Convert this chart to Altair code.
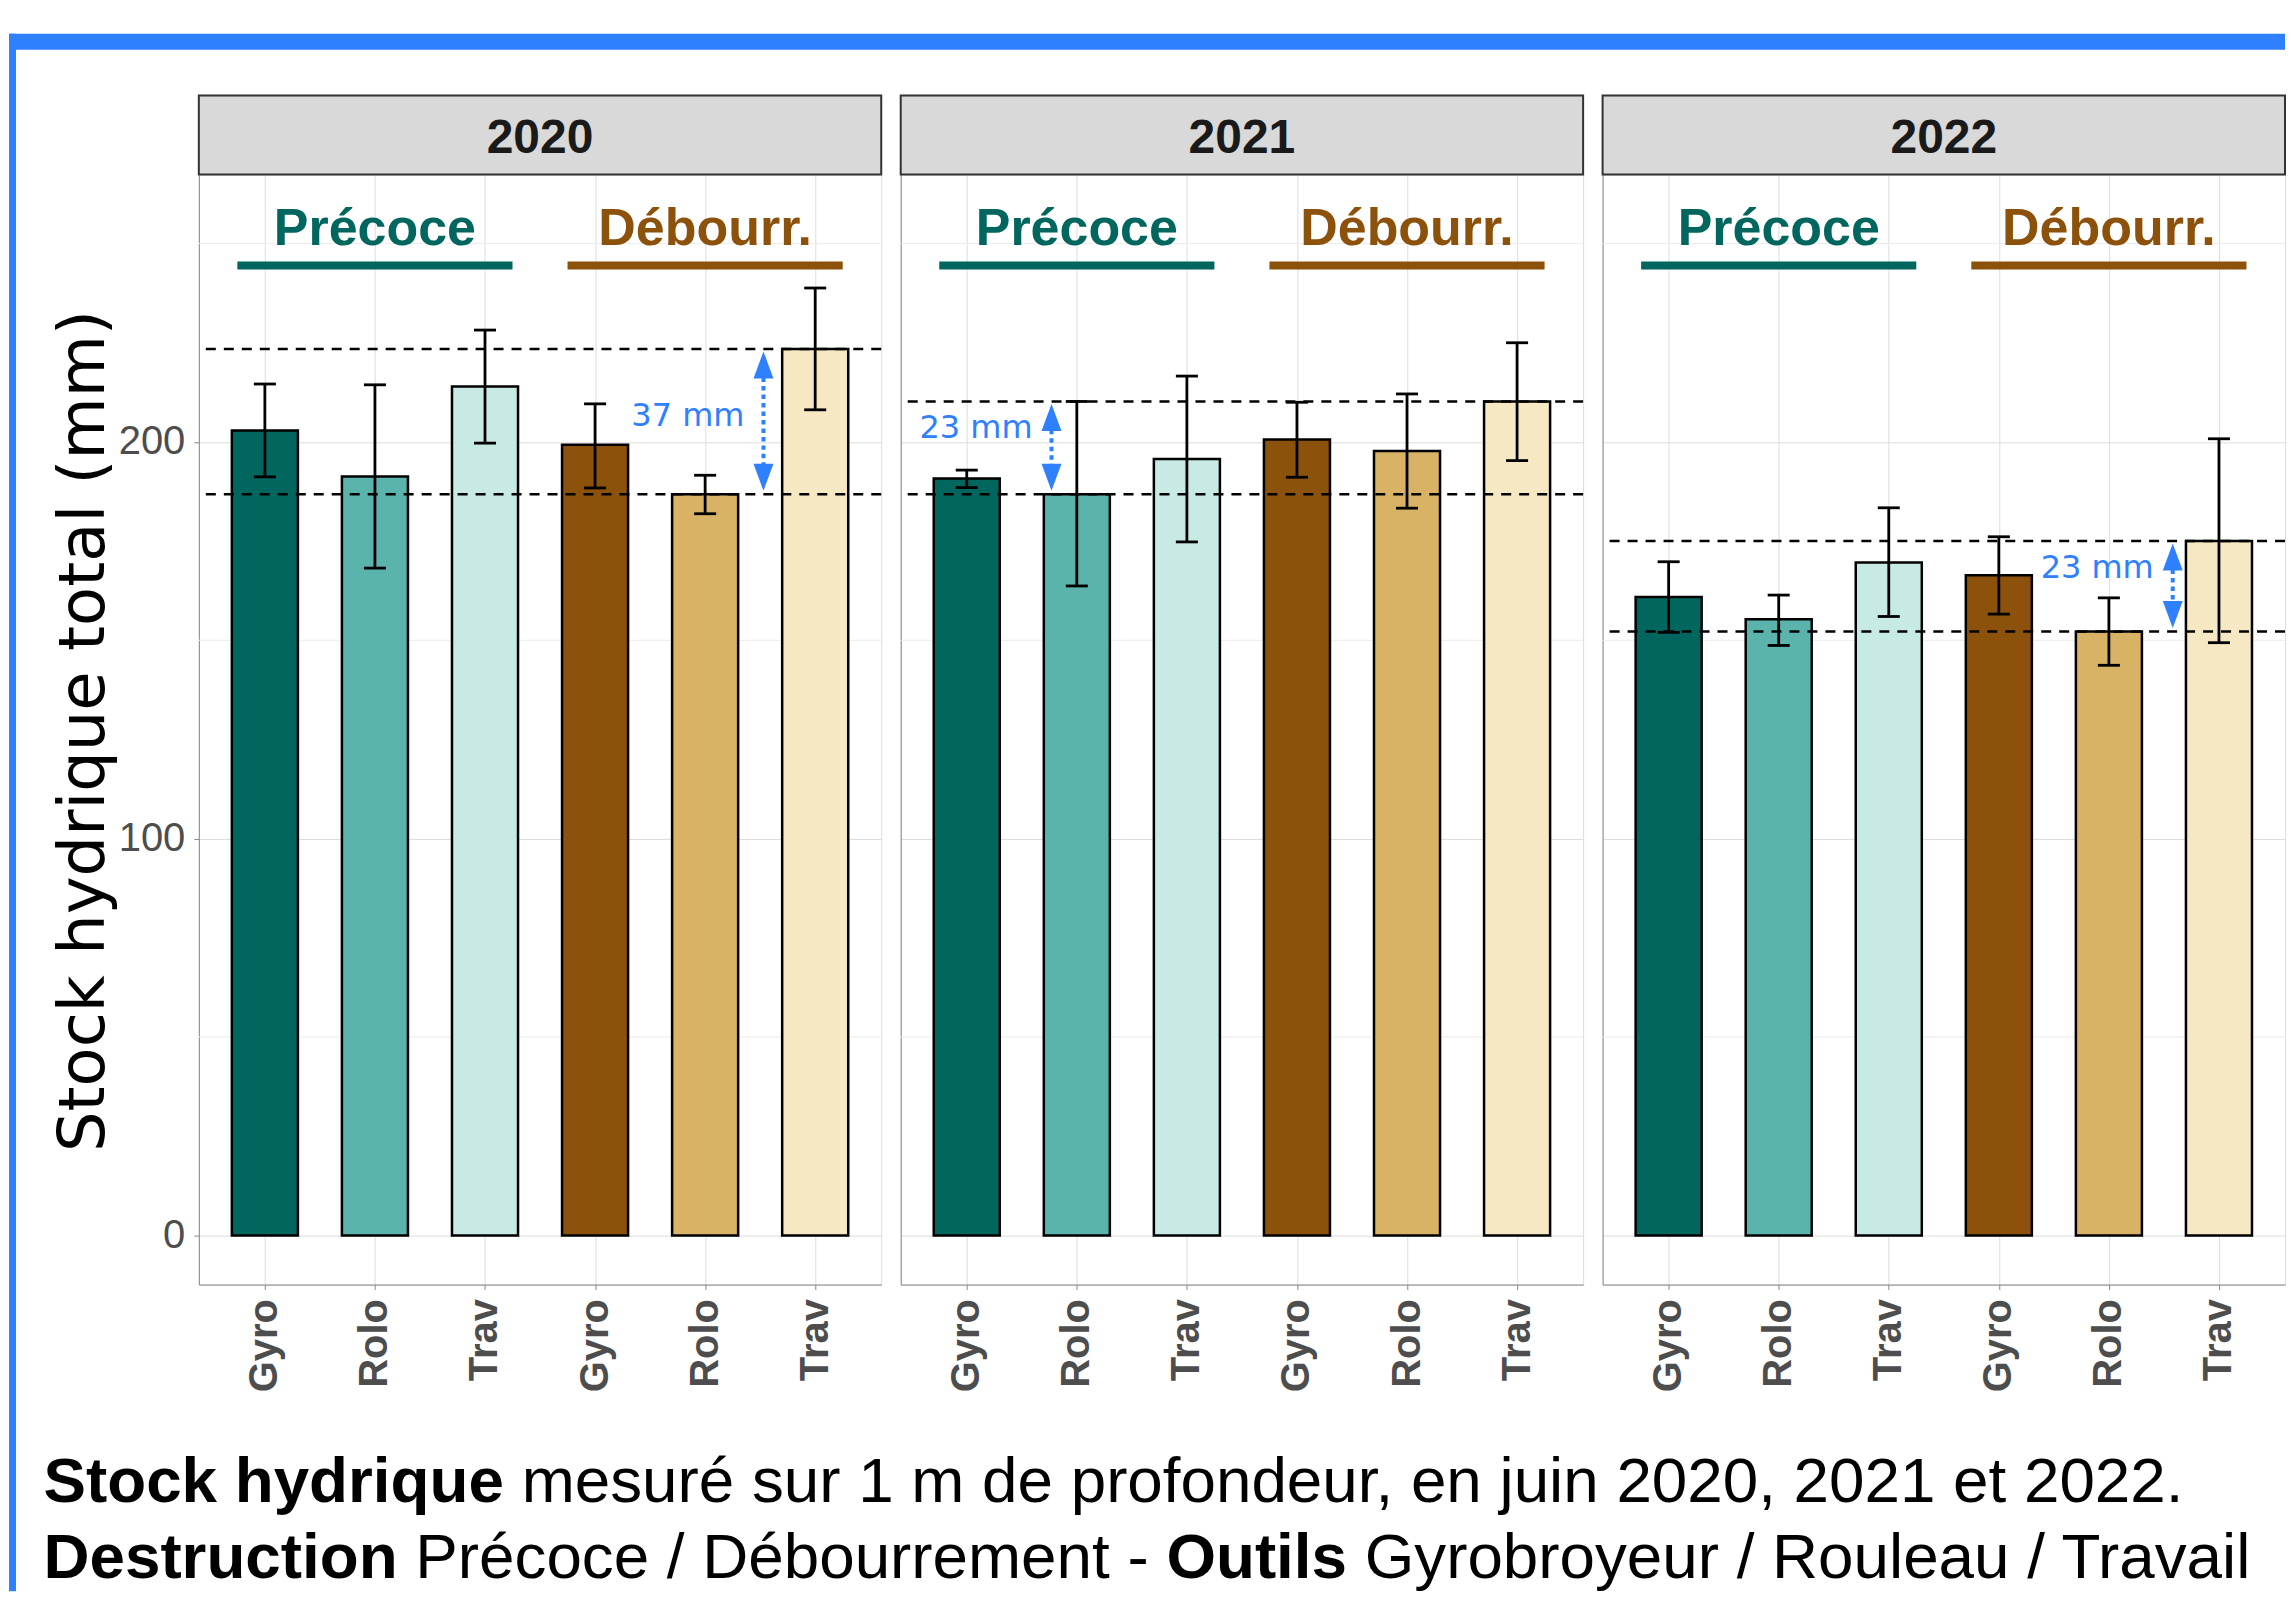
import json
import altair as alt
import pandas as pd

# ---------------- data ----------------
years = ["2020", "2021", "2022"]
tools = ["Gyro", "Rolo", "Trav", "Gyro", "Rolo", "Trav"]
timing = ["Précoce", "Précoce", "Précoce", "Débourr.", "Débourr.", "Débourr."]
bar_colors = ["#01665E", "#5AB4AC", "#C7EAE5", "#8C510A", "#D8B365", "#F6E8C3"]

stock_2020 = [202.9, 191.3, 214.0, 199.3, 186.8, 223.4]
low_2020 = [191.2, 168.2, 199.7, 188.4, 181.9, 208.1]
high_2020 = [214.6, 214.4, 228.2, 209.6, 191.6, 238.8]

stock_2021 = [190.8, 186.8, 195.7, 200.6, 197.7, 210.2]
low_2021 = [188.5, 163.7, 174.8, 191.1, 183.3, 195.3]
high_2021 = [192.9, 210.2, 216.6, 210.0, 212.1, 225.0]

stock_2022 = [160.9, 155.3, 169.6, 166.4, 152.2, 175.0]
low_2022 = [152.0, 148.7, 156.0, 156.6, 143.7, 149.4]
high_2022 = [169.8, 161.4, 183.4, 176.1, 160.7, 200.8]

stocks = [stock_2020, stock_2021, stock_2022]
lows = [low_2020, low_2021, low_2022]
highs = [high_2020, high_2021, high_2022]

ref_high = [223.4, 210.2, 175.0]
ref_low = [186.8, 186.8, 152.2]
gap_labels = ["37 mm", "23 mm", "23 mm"]
gap_x = [5.53, 1.77, 5.58]
gap_label_y = [206.5, 203.5, 168.3]

group_names = ["Précoce", "Débourr."]
group_colors = ["#01665E", "#8C510A"]
group_center = [2, 5]
group_start = [0.75, 3.75]
group_end = [3.25, 6.25]
group_label_y = 249.6
group_line_y = 244.5

y_ticks = [0, 100, 200]
y_minor = [50, 150, 250]

caption_1 = [("Stock hydrique", "bold"),
             ("mesuré sur 1 m de profondeur, en juin 2020, 2021 et 2022.", "normal")]
caption_2 = [("Destruction", "bold"), ("Précoce / Débourrement -", "normal"),
             ("Outils", "bold"), ("Gyrobroyeur / Rouleau / Travail", "normal")]

# ---------------- layout ----------------
W, H = 683, 1111
SPACING = 19.5
PX0, PY0 = 198.0, 173.0          # page position of first plot area
XDOM = [0.4, 6.6]
YDOM = [-12.4, 267.4]
BLUE = "#2F80FF"
FONT = "Liberation Sans"
LABEL_GREY = "#4D4D4D"
CAP_FS = 63.8
RIGHT_EDGE = 2286                # keep the page free of scrollbars
BOTTOM_EDGE = 1591

# Arial / Liberation Sans advance widths (per 1000 em) for caption segments
REG = {" ": 278, "/": 278, "-": 333, "P": 667, "r": 333, "é": 556, "c": 500, "o": 556,
       "e": 556, "D": 722, "b": 556, "u": 556, "m": 833, "n": 556, "t": 278}
BLD = {" ": 278, "S": 667, "t": 333, "o": 611, "c": 556, "k": 556, "h": 611, "y": 556,
       "d": 611, "r": 389, "i": 278, "q": 611, "u": 611, "e": 556, "D": 722, "s": 556,
       "n": 611, "O": 778, "l": 278}


def text_width(s, weight):
    table = BLD if weight == "bold" else REG
    return sum(table.get(ch, 556) for ch in s) / 1000.0 * CAP_FS


def panel(i):
    year = years[i]
    df = pd.DataFrame({
        "idx": list(range(1, 7)),
        "tool": tools,
        "timing": timing,
        "val": stocks[i],
        "low": lows[i],
        "high": highs[i],
        "fill": bar_colors,
    })
    xs = alt.Scale(domain=XDOM, nice=False, zero=False)
    ys = alt.Scale(domain=YDOM, nice=False, zero=False)

    label_expr = json.dumps(tools) + "[datum.value - 1]"
    xaxis = alt.Axis(values=list(range(1, 7)), labelExpr=label_expr, labelAngle=270,
                     labelAlign="right", labelBaseline="middle", labelFontSize=40,
                     labelFontWeight="bold", labelPadding=9, labelOverlap=False,
                     labelFlush=False, labelColor=LABEL_GREY, labelFont=FONT,
                     title=None, grid=True)
    if i == 0:
        yaxis = alt.Axis(values=y_ticks, labelFontSize=40, labelPadding=9, title=None,
                         labelColor=LABEL_GREY, labelFont=FONT,
                         grid=True, labelFlush=False, labelOverlap=False)
    else:
        yaxis = alt.Axis(values=y_ticks, labels=False, ticks=False, title=None, grid=True)

    def X(field):
        return alt.X(field, scale=xs, axis=xaxis, title=None)

    def Y(field):
        return alt.Y(field, scale=ys, axis=yaxis, title=None)

    base = alt.Chart(df)

    minor = alt.Chart(pd.DataFrame({"g": y_minor})).mark_rule(
        color="#EBEBEB", strokeWidth=1
    ).encode(y=Y("g:Q"))

    bars = base.transform_calculate(
        x0="datum.idx - 0.3", x1="datum.idx + 0.3", base="0"
    ).mark_rect(stroke="black", strokeWidth=2.5).encode(
        x=X("x0:Q"),
        x2="x1:Q",
        y=Y("val:Q"),
        y2="base:Q",
        fill=alt.Fill("fill:N", scale=None),
    )

    err = base.mark_rule(color="black", strokeWidth=2.8).encode(
        x=X("idx:Q"),
        y=Y("low:Q"),
        y2="high:Q",
    )
    caps = base.transform_calculate(
        c0="datum.idx - 0.1", c1="datum.idx + 0.1"
    ).transform_fold(["low", "high"], as_=["end", "v"]).mark_rule(
        color="black", strokeWidth=2.8
    ).encode(
        x=X("c0:Q"),
        x2="c1:Q",
        y=Y("v:Q"),
    )

    refs = alt.Chart(pd.DataFrame({"r": [ref_high[i], ref_low[i]]})).mark_rule(
        color="black", strokeWidth=2.5, strokeDash=[10, 8]
    ).encode(y=Y("r:Q"))

    gdf = pd.DataFrame({"name": group_names, "col": group_colors, "cx": group_center,
                        "s": group_start, "e": group_end})
    glabels = alt.Chart(gdf).transform_calculate(yy=str(group_label_y)).mark_text(
        font=FONT, fontWeight="bold", fontSize=52, baseline="alphabetic", align="center"
    ).encode(
        x=X("cx:Q"),
        y=Y("yy:Q"),
        text="name:N",
        color=alt.Color("col:N", scale=None),
    )
    glines = alt.Chart(gdf).transform_calculate(yy=str(group_line_y)).mark_rule(
        strokeWidth=8, strokeCap="butt"
    ).encode(
        x=X("s:Q"),
        x2="e:Q",
        y=Y("yy:Q"),
        color=alt.Color("col:N", scale=None),
    )

    adf = pd.DataFrame({"ax": [gap_x[i]], "hi": [ref_high[i]], "lo": [ref_low[i]],
                        "ly": [gap_label_y[i]], "lab": [gap_labels[i]]})
    abase = alt.Chart(adf)
    arrow_line = abase.transform_calculate(
        a="datum.hi - 5", b="datum.lo + 5"
    ).mark_rule(color=BLUE, strokeWidth=4, strokeDash=[4.5, 4]).encode(
        x=X("ax:Q"),
        y=Y("a:Q"),
        y2="b:Q",
    )
    head_up = abase.mark_point(
        shape="M0,-1L0.74,1L-0.74,1Z", filled=True, size=729, color=BLUE, opacity=1,
        strokeWidth=0, yOffset=16
    ).encode(x=X("ax:Q"), y=Y("hi:Q"))
    head_down = abase.mark_point(
        shape="M0,1L0.74,-1L-0.74,-1Z", filled=True, size=729, color=BLUE, opacity=1,
        strokeWidth=0, yOffset=-17
    ).encode(x=X("ax:Q"), y=Y("lo:Q"))
    alabel = abase.mark_text(
        font="DejaVu Sans", fontSize=32, color=BLUE, align="right", baseline="middle", dx=-19
    ).encode(
        x=X("ax:Q"),
        y=Y("ly:Q"),
        text="lab:N",
    )

    sdf = pd.DataFrame({"year": [year]})
    strip = alt.Chart(sdf).mark_rect(fill="#D9D9D9", stroke="#333333", strokeWidth=2).encode(
        x=alt.value(0), x2=alt.value(W), y=alt.value(-79), y2=alt.value(0)
    )
    strip_text = alt.Chart(sdf).mark_text(
        font=FONT, fontWeight="bold", fontSize=48, color="#1A1A1A",
        align="center", baseline="alphabetic"
    ).encode(x=alt.value(W / 2), y=alt.value(-22), text="year:N")

    layers = [minor, bars, err, caps, refs, glines, glabels, arrow_line, head_up,
              head_down, alabel, strip, strip_text]

    if i == 0:
        one = pd.DataFrame({"k": [0]})
        left = -(PX0 - 8)
        top_bar = alt.Chart(one).mark_rect(fill=BLUE).encode(
            x=alt.value(left), x2=alt.value(RIGHT_EDGE - PX0),
            y=alt.value(32 - PY0), y2=alt.value(48 - PY0))
        left_bar = alt.Chart(one).mark_rect(fill=BLUE).encode(
            x=alt.value(left), x2=alt.value(15 - PX0),
            y=alt.value(32 - PY0), y2=alt.value(BOTTOM_EDGE - PY0))
        ytitle = alt.Chart(one).mark_text(
            text="Stock hydrique total (mm)", font="DejaVu Sans", fontSize=64,
            color="black", angle=270, align="center", baseline="alphabetic"
        ).encode(x=alt.value(103.3 - PX0), y=alt.value(730 - PY0))
        layers += [top_bar, left_bar, ytitle]

        x_start = 42.5 - PX0
        for line, base_y in ((caption_1, 1502), (caption_2, 1578)):
            cx = x_start
            for seg, wt in line:
                layers.append(alt.Chart(one).mark_text(
                    text=seg, font=FONT, fontSize=CAP_FS, fontWeight=wt, color="black",
                    align="left", baseline="alphabetic"
                ).encode(x=alt.value(cx), y=alt.value(base_y - PY0)))
                cx += text_width(seg, wt) + text_width(" ", "normal")

    return alt.layer(*layers).properties(width=W, height=H)


chart = alt.hconcat(panel(0), panel(1), panel(2), spacing=SPACING, bounds="flush").properties(
    padding={"left": 0, "top": 24, "right": 0, "bottom": 0}
).configure_view(
    stroke="#333333", strokeWidth=2
).configure_axis(
    gridColor="#EBEBEB", gridWidth=2, domain=False, tickColor="#333333", tickWidth=2,
    tickSize=10, labelFont=FONT, labelColor=LABEL_GREY
).configure(background="white")

chart.save("out.html", embed_options={"renderer": "svg", "actions": False})
